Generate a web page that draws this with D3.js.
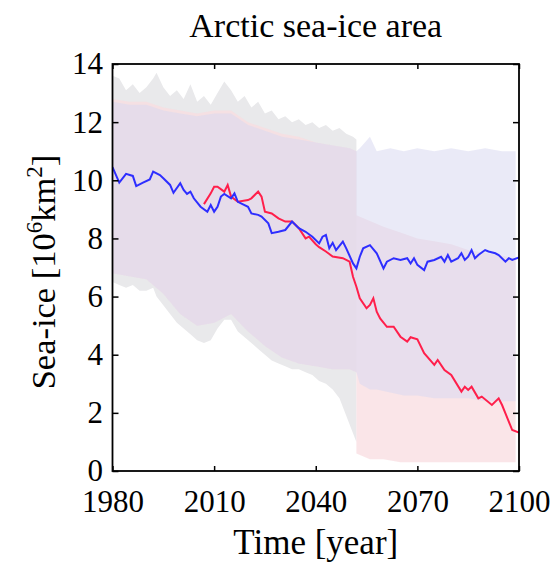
<!DOCTYPE html>
<html>
<head>
<meta charset="utf-8">
<script src="https://cdn.jsdelivr.net/npm/d3@7"></script>
<style>
  body { margin: 0; background: #fff; }
  svg { display: block; }
  svg text { font-family: "Liberation Serif", "Times New Roman", Times, "DejaVu Serif", serif; }
</style>
</head>
<body>
<svg id="chart" width="557" height="564"></svg>
<script>
const xTicks = [1980, 2010, 2040, 2070, 2100];
const yTicks = [0, 2, 4, 6, 8, 10, 12, 14];

// [year, lower, upper]
const grayBand = [
  [1980, 6.5, 13.6], [1982, 6.4, 13.5], [1984, 6.3, 13.1], [1986, 6.4, 13.3], [1988, 6.2, 13.0],
  [1990, 6.2, 13.2], [1992, 6.3, 13.5], [1993, 6.0, 13.7], [1995, 5.7, 13.2], [1997, 5.4, 12.9],
  [1999, 5.1, 13.1], [2001, 4.9, 12.8], [2003, 4.7, 13.3], [2005, 4.5, 12.7], [2007, 4.4, 12.9],
  [2009, 4.5, 12.6], [2011, 4.9, 13.0], [2013, 5.2, 13.4], [2015, 5.2, 13.1], [2017, 4.8, 12.7],
  [2019, 4.6, 12.9], [2021, 4.4, 12.5], [2023, 4.2, 12.7], [2025, 4.0, 12.3], [2027, 3.8, 12.4],
  [2029, 3.7, 12.1], [2031, 3.6, 12.2], [2033, 3.5, 12.0], [2035, 3.5, 12.1], [2037, 3.4, 11.9],
  [2039, 3.3, 12.0], [2041, 3.1, 11.8], [2043, 3.0, 11.9], [2045, 2.8, 11.7], [2047, 2.5, 11.8],
  [2049, 1.9, 11.6], [2051, 1.3, 11.5], [2052, 1.0, 11.4]
];

const pinkBand = [
  [1980, 6.8, 12.8], [1985, 6.7, 12.7], [1990, 6.6, 12.7], [1995, 6.1, 12.5], [2000, 5.4, 12.4],
  [2005, 5.0, 12.3], [2010, 5.1, 12.4], [2015, 5.4, 12.4], [2020, 4.8, 12.0], [2025, 4.3, 11.8],
  [2030, 3.9, 11.6], [2035, 3.7, 11.5], [2040, 3.6, 11.3], [2045, 3.5, 11.2], [2050, 3.5, 11.1],
  [2052, 3.4, 11.0], [2052, 0.6, 8.8], [2056, 0.4, 8.6], [2060, 0.4, 8.4], [2065, 0.3, 8.2],
  [2070, 0.3, 8.0], [2075, 0.3, 7.9], [2080, 0.3, 7.8], [2085, 0.3, 7.6], [2090, 0.3, 7.5],
  [2095, 0.3, 7.4], [2099, 0.3, 7.3]
];

const blueBand = [
  [1980, 6.8, 12.7], [1985, 6.7, 12.6], [1990, 6.6, 12.6], [1995, 6.1, 12.4], [2000, 5.4, 12.3],
  [2005, 5.0, 12.2], [2010, 5.1, 12.3], [2015, 5.4, 12.3], [2020, 4.8, 11.9], [2025, 4.3, 11.7],
  [2030, 3.9, 11.5], [2035, 3.7, 11.4], [2040, 3.6, 11.3], [2045, 3.5, 11.2], [2050, 3.5, 11.1],
  [2052, 3.4, 11.0], [2053, 3.0, 11.1], [2056, 2.8, 11.5], [2058, 2.8, 11.0], [2062, 2.7, 11.1],
  [2066, 2.6, 11.0], [2070, 2.6, 11.1], [2075, 2.5, 11.0], [2080, 2.5, 11.1], [2085, 2.5, 11.0],
  [2090, 2.4, 11.1], [2095, 2.4, 11.0], [2099, 2.4, 11.0]
];

// [year, value]
const blueLine = [
  [1980, 10.45], [1982, 9.92], [1984, 10.22], [1986, 10.15], [1987, 9.80], [1989, 9.92],
  [1991, 10.03], [1992, 10.30], [1994, 10.18], [1995, 10.07], [1997, 9.84], [1998, 9.57],
  [2000, 9.90], [2001, 9.67], [2002, 9.53], [2003, 9.61], [2004, 9.38], [2006, 9.09],
  [2008, 8.92], [2009, 9.15], [2010, 8.92], [2011, 9.09], [2012, 9.44], [2013, 9.53],
  [2015, 9.38], [2016, 9.55], [2017, 9.26], [2020, 9.09], [2021, 8.86], [2023, 8.81],
  [2024, 8.75], [2026, 8.52], [2027, 8.18], [2029, 8.23], [2031, 8.29], [2033, 8.58],
  [2035, 8.35], [2037, 8.23], [2039, 8.06], [2041, 7.83], [2042, 8.06], [2043, 8.12],
  [2044, 7.66], [2045, 7.85], [2046, 7.60], [2048, 7.89], [2049, 7.66], [2051, 7.14],
  [2052, 6.97], [2053, 7.37], [2054, 7.66], [2056, 7.77], [2058, 7.49], [2060, 6.97],
  [2061, 7.20], [2063, 7.32], [2065, 7.26], [2067, 7.32], [2068, 7.14], [2069, 7.32],
  [2070, 7.09], [2072, 6.91], [2073, 7.20], [2075, 7.26], [2077, 7.37], [2078, 7.20],
  [2079, 7.43], [2080, 7.20], [2082, 7.32], [2083, 7.49], [2084, 7.26], [2085, 7.37],
  [2086, 7.60], [2087, 7.32], [2088, 7.43], [2090, 7.60], [2091, 7.55], [2093, 7.49],
  [2094, 7.43], [2096, 7.20], [2097, 7.32], [2098, 7.26], [2100, 7.35]
];

const redLine = [
  [2007, 9.18], [2009, 9.55], [2010, 9.78], [2011, 9.78], [2013, 9.61], [2014, 9.84],
  [2015, 9.44], [2017, 9.26], [2020, 9.32], [2021, 9.38], [2023, 9.61], [2024, 9.44],
  [2025, 8.92], [2027, 8.86], [2029, 8.69], [2031, 8.58], [2033, 8.58], [2035, 8.35],
  [2037, 8.00], [2038, 8.06], [2040, 7.80], [2041, 7.70], [2043, 7.55], [2045, 7.38],
  [2048, 7.32], [2050, 7.20], [2051, 6.68], [2052, 6.34], [2053, 5.94], [2055, 5.60],
  [2056, 5.71], [2057, 5.94], [2058, 5.48], [2059, 5.25], [2061, 4.96], [2063, 4.96],
  [2065, 4.62], [2067, 4.45], [2068, 4.60], [2070, 4.53], [2072, 4.05], [2075, 3.65],
  [2076, 3.82], [2078, 3.47], [2080, 3.30], [2083, 2.73], [2084, 2.90], [2085, 2.79],
  [2086, 2.90], [2088, 2.50], [2089, 2.56], [2092, 2.27], [2094, 2.50], [2095, 2.27],
  [2096, 1.98], [2098, 1.41], [2100, 1.32]
];

const serif = "'Liberation Serif', 'Times New Roman', Times, 'DejaVu Serif', serif";

function drawChart() {
  const svg = d3.select("#chart");
  const width = +svg.attr("width");
  const height = +svg.attr("height");
  const margin = { top: 64, right: 38, bottom: 93, left: 112.5 };

  const x = d3.scaleLinear()
    .domain([1980, 2100])
    .range([margin.left, width - margin.right]);

  const y = d3.scaleLinear()
    .domain([0, 14])
    .range([height - margin.bottom, margin.top]);

  svg.append("clipPath").attr("id", "plotArea")
    .append("rect")
    .attr("x", x(1980)).attr("y", y(14))
    .attr("width", x(2100) - x(1980)).attr("height", y(0) - y(14));

  const area = d3.area()
    .x(d => x(d[0]))
    .y0(d => y(d[1]))
    .y1(d => y(d[2]));

  const line = d3.line()
    .x(d => x(d[0]))
    .y(d => y(d[1]));

  const plot = svg.append("g").attr("clip-path", "url(#plotArea)");

  plot.append("path").datum(grayBand) // full ensemble, historical part
    .attr("d", area).attr("fill", "#e9e9eb");
  plot.append("path").datum(pinkBand)
    .attr("d", area).attr("fill", "#f8dce0").attr("fill-opacity", 0.75);
  plot.append("path").datum(blueBand)
    .attr("d", area).attr("fill", "#d8d8f0").attr("fill-opacity", 0.55);

  plot.append("path").datum(redLine)
    .attr("d", line).attr("fill", "none")
    .attr("stroke", "#ff1f4b").attr("stroke-width", 2);
  plot.append("path").datum(blueLine)
    .attr("d", line).attr("fill", "none")
    .attr("stroke", "#2e2eff").attr("stroke-width", 2);

  // axes, ticks pointing inward on all four sides
  const styleAxis = g => {
    g.attr("font-family", serif).attr("font-size", 31);
    g.select(".domain").remove();
    g.selectAll(".tick line").attr("stroke", "#000").attr("stroke-width", 1.5);
    g.selectAll("text").attr("fill", "#000");
  };

  svg.append("g")
    .attr("transform", `translate(0,${y(0)})`)
    .call(d3.axisBottom(x).tickValues(xTicks).tickFormat(d3.format("d"))
      .tickSizeInner(-5).tickSizeOuter(0).tickPadding(19))
    .call(styleAxis);

  svg.append("g")
    .attr("transform", `translate(0,${y(14)})`)
    .call(d3.axisTop(x).tickValues(xTicks).tickFormat("")
      .tickSizeInner(-5).tickSizeOuter(0))
    .call(styleAxis);

  svg.append("g")
    .attr("transform", `translate(${x(1980)},0)`)
    .call(d3.axisLeft(y).tickValues(yTicks).tickFormat(d3.format("d"))
      .tickSizeInner(-6).tickSizeOuter(0).tickPadding(9.5))
    .call(styleAxis);

  svg.append("g")
    .attr("transform", `translate(${x(2100)},0)`)
    .call(d3.axisRight(y).tickValues(yTicks).tickFormat("")
      .tickSizeInner(-6).tickSizeOuter(0))
    .call(styleAxis);

  svg.append("rect")
    .attr("x", x(1980)).attr("y", y(14))
    .attr("width", x(2100) - x(1980)).attr("height", y(0) - y(14))
    .attr("fill", "none").attr("stroke", "#000").attr("stroke-width", 1.8);

  const cx = (x(1980) + x(2100)) / 2;

  svg.append("text")
    .attr("x", cx).attr("y", 37)
    .attr("text-anchor", "middle")
    .attr("font-family", serif).attr("font-size", 34)
    .text("Arctic sea-ice area");

  svg.append("text")
    .attr("x", cx).attr("y", 554)
    .attr("text-anchor", "middle")
    .attr("font-family", serif).attr("font-size", 35)
    .text("Time [year]");

  const yLabel = svg.append("text")
    .attr("transform", "translate(55,272) rotate(-90)")
    .attr("text-anchor", "middle")
    .attr("font-family", serif).attr("font-size", 34.5);
  yLabel.append("tspan").text("Sea-ice [10");
  yLabel.append("tspan").attr("dy", -13).attr("font-size", 23).text("6");
  yLabel.append("tspan").attr("dy", 13).text("km");
  yLabel.append("tspan").attr("dy", -13).attr("font-size", 23).text("2");
  yLabel.append("tspan").attr("dy", 13).text("]");
}

drawChart();
</script>
</body>
</html>
